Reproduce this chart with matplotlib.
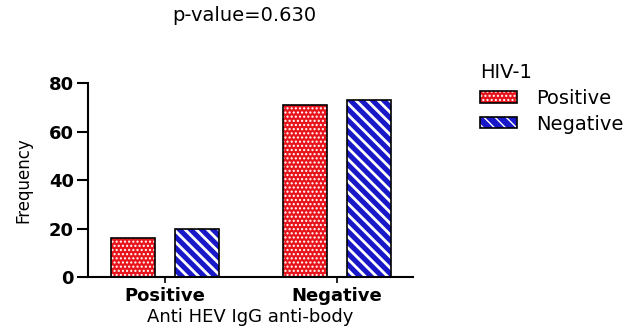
import numpy as np
import matplotlib
matplotlib.use('Agg')
import matplotlib.pyplot as plt
from matplotlib.patches import Patch
from matplotlib.legend_handler import HandlerTuple

# data
groups = ['Positive', 'Negative']
series = ['Positive', 'Negative']
hiv_pos = [16, 71]
hiv_neg = [20, 73]

plt.rcParams['font.family'] = ['DejaVu Sans']

fig = plt.figure(figsize=(6.42, 3.31), dpi=100)
ax = fig.add_axes([0.137, 0.163, 0.506, 0.586])

x = np.arange(len(groups))
w = 0.256
off = 0.186

styles = [
    (hiv_pos, -off, '#e8141c', '....', 1.0),
    (hiv_neg, off, '#1818c8', '\\\\\\', 2.0),
]
handles = []
for vals, dx, col, hatch, hlw in styles:
    with plt.rc_context({'hatch.linewidth': hlw}):
        ax.bar(x + dx, vals, w, color=col, hatch=hatch, edgecolor='white', linewidth=0)
        h1 = Patch(facecolor=col, hatch=hatch, edgecolor='white', linewidth=0)
    ax.bar(x + dx, vals, w, fill=False, edgecolor='black', linewidth=1.2)
    h2 = Patch(fill=False, edgecolor='black', linewidth=1.2)
    handles.append((h1, h2))

ax.set_xlim(-0.448, 0.442 + 1)
ax.set_ylim(0, 80)
ax.set_yticks([0, 20, 40, 60, 80])
ax.set_xticks(x)
ax.set_xticklabels(groups, fontsize=13, fontweight='bold')
for lab in ax.get_yticklabels():
    lab.set_fontsize(13)
    lab.set_fontweight('bold')

for s in ['top', 'right']:
    ax.spines[s].set_visible(False)
for s in ['left', 'bottom']:
    ax.spines[s].set_linewidth(1.5)
ax.tick_params(axis='y', length=8, width=1.5, pad=2)
ax.tick_params(axis='x', length=4, width=1.2, pad=3)

ax.set_ylabel('Frequency', fontsize=12, labelpad=12)
ax.set_xlabel('Anti HEV IgG anti-body', fontsize=13, labelpad=2)
fig.text(0.38, 0.952, 'p-value=0.630', fontsize=14, ha='center', va='center')

leg = ax.legend(handles, series, handler_map={tuple: HandlerTuple(ndivide=1)},
                title='HIV-1', loc='upper left', bbox_to_anchor=(0.748, 0.81),
                bbox_transform=fig.transFigure, frameon=False, fontsize=14,
                title_fontsize=14, handlelength=1.9, handleheight=0.55,
                handletextpad=1.0, labelspacing=0.35, borderpad=0, borderaxespad=0)
leg._legend_box.align = 'left'

fig.savefig('out.png', dpi=100)
